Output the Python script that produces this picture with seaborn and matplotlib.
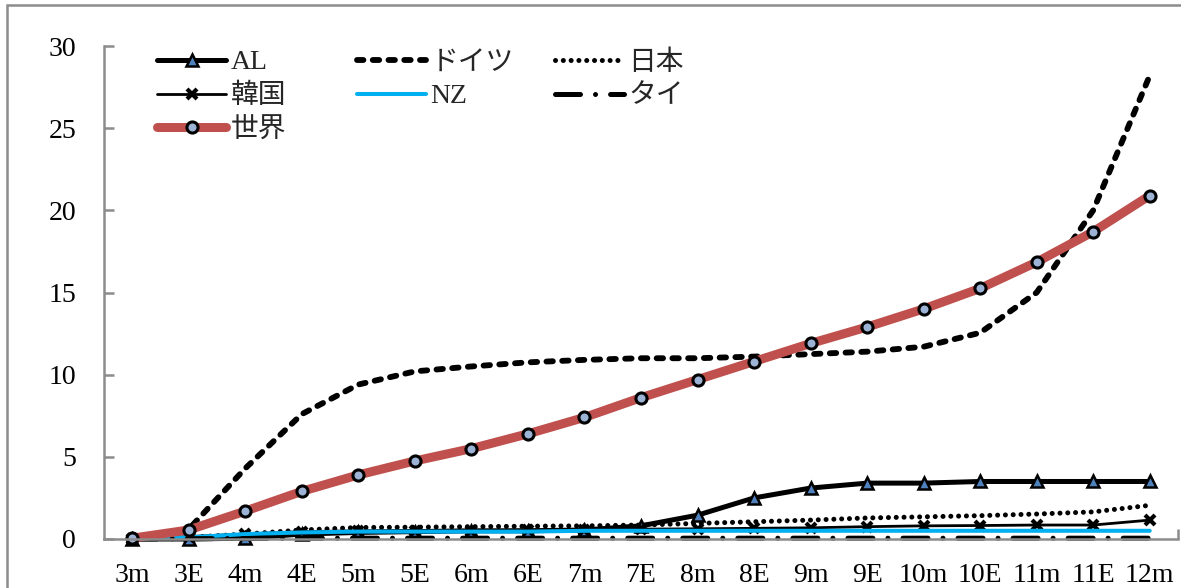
import matplotlib
matplotlib.use("Agg")
import matplotlib.pyplot as plt
import seaborn as sns
from matplotlib.patches import Rectangle
from matplotlib.font_manager import FontProperties

# ---- data ----
categories = ["3m", "3E", "4m", "4E", "5m", "5E", "6m", "6E", "7m", "7E",
              "8m", "8E", "9m", "9E", "10m", "10E", "11m", "11E", "12m"]
al      = [0.0, 0.0, 0.05, 0.3, 0.4, 0.45, 0.5, 0.5, 0.55, 0.8,
           1.45, 2.5, 3.1, 3.4, 3.4, 3.5, 3.5, 3.5, 3.5]
germany = [0.0, 0.6, 4.3, 7.6, 9.4, 10.2, 10.5, 10.75, 10.9, 11.0,
           11.0, 11.1, 11.25, 11.4, 11.7, 12.55, 15.0, 20.0, 28.2]
japan   = [0.0, 0.1, 0.3, 0.55, 0.7, 0.72, 0.75, 0.78, 0.8, 0.85,
           0.95, 1.05, 1.15, 1.28, 1.35, 1.42, 1.52, 1.65, 2.05]
korea   = [0.0, 0.15, 0.3, 0.45, 0.5, 0.5, 0.5, 0.55, 0.55, 0.6,
           0.62, 0.65, 0.68, 0.75, 0.8, 0.82, 0.85, 0.85, 1.15]
nz      = [0.05, 0.1, 0.3, 0.4, 0.45, 0.45, 0.45, 0.45, 0.5, 0.5,
           0.5, 0.5, 0.5, 0.5, 0.5, 0.5, 0.5, 0.5, 0.5]
thai    = [0.0, 0.02, 0.03, 0.05, 0.05, 0.05, 0.05, 0.05, 0.05, 0.05,
           0.05, 0.05, 0.05, 0.05, 0.05, 0.05, 0.05, 0.05, 0.05]
world   = [0.05, 0.55, 1.7, 2.9, 3.9, 4.75, 5.5, 6.4, 7.4, 8.6,
           9.7, 10.8, 11.9, 12.9, 14.0, 15.25, 16.85, 18.7, 20.9]
yticks = [0, 5, 10, 15, 20, 25, 30]

sns.set_theme(style="white")
plt.rcParams["font.family"] = ["Liberation Serif", "Noto Sans CJK JP"]

W, H = 1181, 588
fig = plt.figure(figsize=(W / 100, H / 100), dpi=100)
ax = fig.add_axes([104 / W, 1 - 539 / H, (1178 - 104) / W, (539 - 46) / H])

# outer chart border
fig.patches.append(Rectangle((7 / W, -0.2), 1.3, 1 - 5 / H + 0.2,
                             transform=fig.transFigure, fill=False,
                             edgecolor="#8c8c8c", linewidth=1.8))

gray = "#8c8c8c"
handles = {}

def draw(y, label, round_caps=False, **kw):
    sns.lineplot(x=categories, y=y, ax=ax, sort=False, label=label, **kw)
    line = ax.get_lines()[-1]
    line.set_clip_on(False)
    if round_caps:
        line.set_dash_capstyle("round")
    handles[label] = line

draw(al, "AL", color="black", linewidth=3.6, marker="^", markersize=9,
     markerfacecolor="#4F81BD", markeredgecolor="black", markeredgewidth=1.8)
draw(germany, "ドイツ", round_caps=True, color="black", linewidth=4.2,
     linestyle=(0, (1.1, 1.6)))
draw(japan, "日本", round_caps=True, color="black", linewidth=3.6,
     linestyle=(0, (0.01, 1.55)))
draw(korea, "韓国", color="black", linewidth=2.0, marker="x", markersize=7,
     markeredgecolor="black", markeredgewidth=3.0)
draw(nz, "NZ", color="#00B0F0", linewidth=2.9)
draw(thai, "タイ", round_caps=True, color="black", linewidth=3.6,
     linestyle=(0, (5.0, 3.0, 0.01, 3.0)))
draw(world, "世界", color="#C0504D", linewidth=6.5, marker="o", markersize=8,
     markerfacecolor="#9DB3D6", markeredgecolor="black", markeredgewidth=2.2)

ax.set_xlim(-0.5, 18.5)
ax.set_ylim(0, 30)
ax.set_yticks(yticks)
ax.set_yticklabels([str(v) for v in yticks])
ax.set_xlabel("")
ax.set_ylabel("")

for s in ["top", "right"]:
    ax.spines[s].set_visible(False)
for s in ["left", "bottom"]:
    ax.spines[s].set_color(gray)
    ax.spines[s].set_linewidth(1.8)

ax.tick_params(axis="y", direction="in", length=7, width=1.8, color=gray,
               labelsize=20, pad=20, left=True)
ax.tick_params(axis="x", length=0, labelsize=20, pad=17, bottom=True)
ax.set_xticks([18.5], minor=True)
ax.tick_params(axis="x", which="minor", direction="in", length=7, width=1.8,
               color=gray, bottom=True)
for lbl in ax.get_xticklabels() + ax.get_yticklabels():
    lbl.set_color("black")

# legend: three columns placed like the original
if ax.get_legend():
    ax.get_legend().remove()
columns = [(["AL", "韓国", "世界"], 157), (["ドイツ", "NZ"], 357), (["日本", "タイ"], 555)]
for names, xpx in columns:
    fig.legend([handles[k] for k in names], names, loc="upper left",
               bbox_to_anchor=(xpx / W, 1 - 50 / H), bbox_transform=fig.transFigure,
               frameon=False, borderpad=0, borderaxespad=0, handlelength=2.5,
               handletextpad=0.15, labelspacing=0.3,
               prop=FontProperties(family=["Liberation Serif", "Noto Sans CJK JP"], size=20))

fig.savefig("out.png", dpi=100)
